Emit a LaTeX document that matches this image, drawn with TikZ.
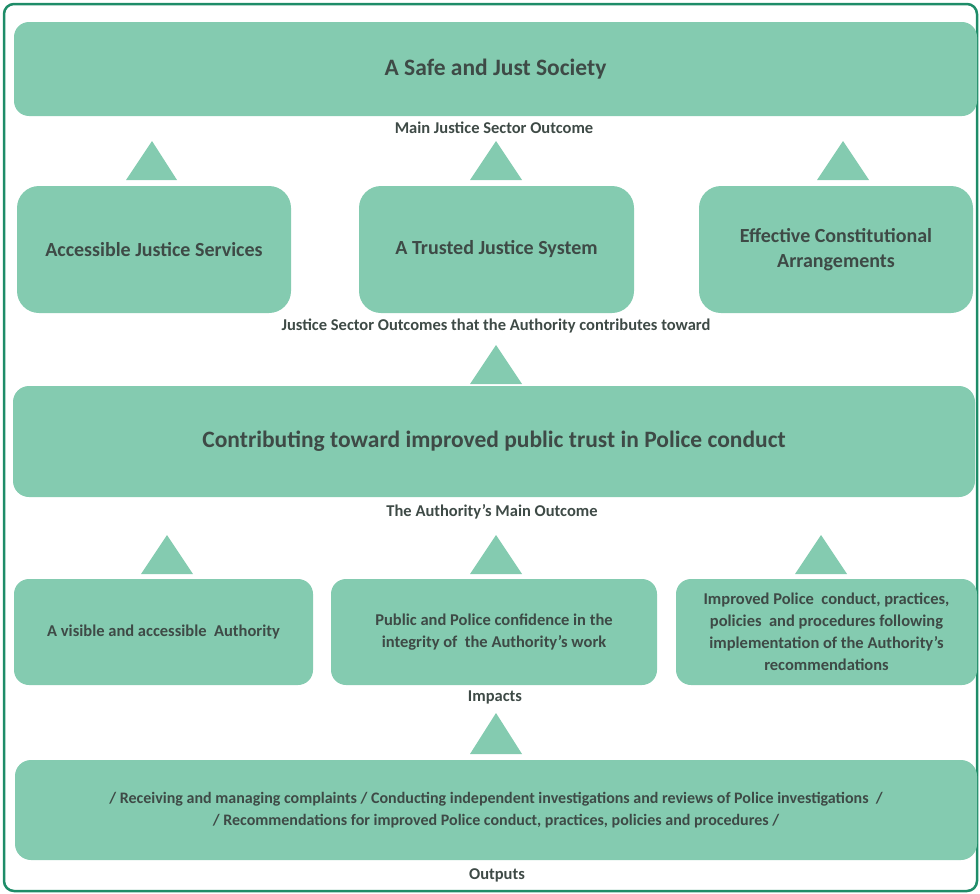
\documentclass[tikz,border=0pt]{standalone}
\usepackage{fontspec}
\setmainfont{Carlito}
\definecolor{boxfill}{HTML}{84CBB0}
\definecolor{frame}{HTML}{1E8C68}
\definecolor{txt}{HTML}{3E4A46}
\begin{document}
\begin{tikzpicture}[x=1pt,y=-1pt,
  box/.style={fill=boxfill, draw=none, rounded corners=#1, inner sep=0pt, align=center, text=txt},
  box/.default=16pt,
  lbl/.style={text=txt, font=\bfseries\fontsize{16.5}{18}\selectfont, inner sep=0pt},
  big/.style={font=\bfseries\fontsize{23.5}{28}\selectfont},
  mid/.style={font=\bfseries\fontsize{20}{25}\selectfont},
  sml/.style={font=\bfseries\fontsize{16.5}{22}\selectfont},
  tri/.style={fill=boxfill, draw=none}]
\useasboundingbox (0,0) rectangle (980,894);
\draw[frame, line width=2.5pt, rounded corners=10pt] (4,4) rectangle (977,891);

% top
\node[box=15pt, big, minimum width=963pt, minimum height=94pt] (top) at (495.5,69) {A Safe and Just Society};
\node[lbl] (l1) at (494,128) {Main Justice Sector Outcome};

% triangles row 1
\fill[tri] (152,141) -- (177,180) -- (126,180) -- cycle;
\fill[tri] (496,141) -- (522,180) -- (470,180) -- cycle;
\fill[tri] (843,141) -- (869,180) -- (817,180) -- cycle;

% row 2
\node[box=22pt, mid, minimum width=274pt, minimum height=127pt] (acc) at (154,249.5) {Accessible Justice Services};
\node[box=22pt, mid, minimum width=275pt, minimum height=127pt] (trust) at (496.5,249.5) {A Trusted Justice System};
\node[box=22pt, mid, minimum width=274pt, minimum height=127pt] (eca) at (836,249.5) {Effective Constitutional\\Arrangements};
\node[lbl] (l2) at (496,326) {Justice Sector Outcomes that the Authority contributes toward};

\fill[tri] (496,345) -- (522,384) -- (470,384) -- cycle;

% main outcome
\node[box=16pt, big, minimum width=962pt, minimum height=111pt] (main) at (494,441.5) {Contributing toward improved public trust in Police conduct};
\node[lbl] (l3) at (492,512) {The Authority’s Main Outcome};

% triangles row 3
\fill[tri] (167,535) -- (193,574) -- (141,574) -- cycle;
\fill[tri] (496,535) -- (522,574) -- (470,574) -- cycle;
\fill[tri] (821,535) -- (847,574) -- (795,574) -- cycle;

% impacts
\node[box=15pt, sml, minimum width=299pt, minimum height=106pt] (vis) at (163.5,632) {A visible and accessible\ \ Authority};
\node[box=15pt, sml, minimum width=326pt, minimum height=106pt] (conf) at (494,632) {Public and Police confidence in the\\integrity of\ \ the Authority’s work};
\node[box=15pt, sml, minimum width=301pt, minimum height=106pt] (impr) at (826.5,632) {Improved Police\ \ conduct, practices,\\policies\ \ and procedures following\\implementation of the Authority’s\\recommendations};
\node[lbl] (l4) at (495,697) {Impacts};

\fill[tri] (496,713) -- (522,754) -- (470,754) -- cycle;

% outputs
\node[box=16pt, minimum width=962pt, minimum height=100pt, font=\bfseries\fontsize{16}{22}\selectfont] (out) at (496,810) {/ Receiving and managing complaints / Conducting independent investigations and reviews of Police investigations\ \ /\\/ Recommendations for improved Police conduct, practices, policies and procedures /};
\node[lbl] (l5) at (497,875) {Outputs};
\end{tikzpicture}
\end{document}
